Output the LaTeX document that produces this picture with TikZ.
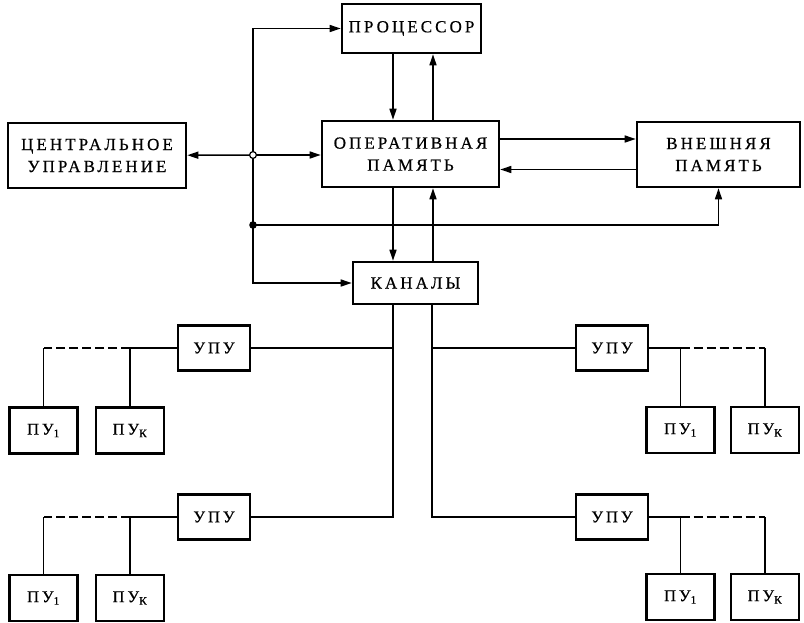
\documentclass[tikz,border=0pt]{standalone}
\usepackage{fontspec}
\setmainfont[LetterSpace=18,FakeBold=0.6]{Liberation Serif}
\usetikzlibrary{arrows.meta}

\begin{document}
\begin{tikzpicture}[x=1pt,y=-1pt,
	box/.style={draw,line width=2.6pt,align=center,inner sep=0pt,font=\fontsize{17}{22}\selectfont},
	upubox/.style={box,minimum width=72pt,minimum height=45pt,font=\fontsize{16.5}{18}\selectfont},
	pubox/.style={box,minimum width=68pt,minimum height=46pt,font=\fontsize{16.5}{18}\selectfont},
	link/.style={line width=1.5pt},
	arr/.style={line width=1.5pt,-{Triangle[length=11pt,width=7pt]}},
	gap/.style={line width=1.5pt,dash pattern=on 9pt off 4pt}]
	\useasboundingbox (0,0) rectangle (804,622);

	%MAIN BLOCKS
	\node[box,minimum width=139pt,minimum height=49pt] (proc) at (411.5,28.5) {ПРОЦЕССОР};
	\node[box,minimum width=178pt,minimum height=65pt] (cu) at (97,155.5) {ЦЕНТРАЛЬНОЕ\\УПРАВЛЕНИЕ};
	\node[box,minimum width=177pt,minimum height=66pt] (om) at (410.5,154) {ОПЕРАТИВНАЯ\\ПАМЯТЬ};
	\node[box,minimum width=163pt,minimum height=65pt] (em) at (718.5,154.5) {ВНЕШНЯЯ\\ПАМЯТЬ};
	\node[box,minimum width=125pt,minimum height=42pt] (ch) at (415.5,283) {КАНАЛЫ};

	%JUNCTIONS
	\coordinate (jn) at (253,155);
	\coordinate (jd) at (253,225);

	%CONNECTIONS -- CONTROL
	\draw[arr] (jn) |- (proc);
	\draw[arr] (jn) -- (cu);
	\draw[arr] (jn) -- (jn -| om.west);
	\draw[link] (jn) -- (jd);
	\draw[arr] (jd) -| (em.south);
	\draw[arr] (jd) |- (ch);
	\fill[white] (jn) circle (3.4pt);	\draw[line width=1.2pt] (jn) circle (3.4pt);
	\fill (jd) circle (3.8pt);

	%CONNECTIONS -- MEMORY
	\draw[arr] ([xshift=-18.5pt]proc.south) -- ([xshift=-18.5pt]proc.south |- om.north);
	\draw[arr] ([xshift=22.5pt]om.north) -- ([xshift=22.5pt]om.north |- proc.south);
	\draw[arr] ([xshift=-17.5pt]om.south) -- ([xshift=-17.5pt]om.south |- ch.north);
	\draw[arr] ([xshift=22.5pt]om.south |- ch.north) -- ([xshift=22.5pt]om.south);
	\draw[arr] ([yshift=15pt]om.east) -- ([yshift=15pt]om.east -| em.west);
	\draw[arr] ([yshift=-15pt]em.west) -- ([yshift=-15pt]em.west -| om.east);

	%PERIPHERAL CONTROL UNITS
	\node[upubox] (upuA) at (214,348) {УПУ};
	\node[upubox] (upuB) at (612,348) {УПУ};
	\node[upubox] (upuC) at (214,517) {УПУ};
	\node[upubox] (upuD) at (612,517) {УПУ};

	\node[pubox] (puA1) at (43.5,430.5) {ПУ\textsubscript{1}};
	\node[pubox] (puAk) at (130,430.5) {ПУ\textsubscript{К}};
	\node[pubox] (puB1) at (680.5,430) {ПУ\textsubscript{1}};
	\node[pubox] (puBk) at (765,430) {ПУ\textsubscript{К}};
	\node[pubox] (puC1) at (43.5,598) {ПУ\textsubscript{1}};
	\node[pubox] (puCk) at (130,598) {ПУ\textsubscript{К}};
	\node[pubox] (puD1) at (680.5,597) {ПУ\textsubscript{1}};
	\node[pubox] (puDk) at (765,597) {ПУ\textsubscript{К}};

	%TRUNKS FROM CHANNELS
	\draw[link] ([xshift=-22.5pt]ch.south) |- (upuC.east);
	\draw[link] (upuA.east) -- ([xshift=-22.5pt]ch.south |- upuA.east);
	\draw[link] ([xshift=16.5pt]ch.south) |- (upuD.west);
	\draw[link] (upuB.west) -- ([xshift=16.5pt]ch.south |- upuB.west);

	%BUSES TO DEVICES
	\foreach \u/\a/\b in {upuA/puA1/puAk,upuC/puC1/puCk}{
		\draw[link] (\u.west) -| (\b.north);
		\draw[gap] (\b.north |- \u.west) -- (\a.north |- \u.west);
		\draw[link] (\a.north |- \u.west) -- (\a.north);
	}
	\foreach \u/\a/\b in {upuB/puB1/puBk,upuD/puD1/puDk}{
		\draw[link] (\u.east) -| (\a.north);
		\draw[gap] (\a.north |- \u.east) -- (\b.north |- \u.east);
		\draw[link] (\b.north |- \u.east) -- (\b.north);
	}
\end{tikzpicture}
\end{document}
